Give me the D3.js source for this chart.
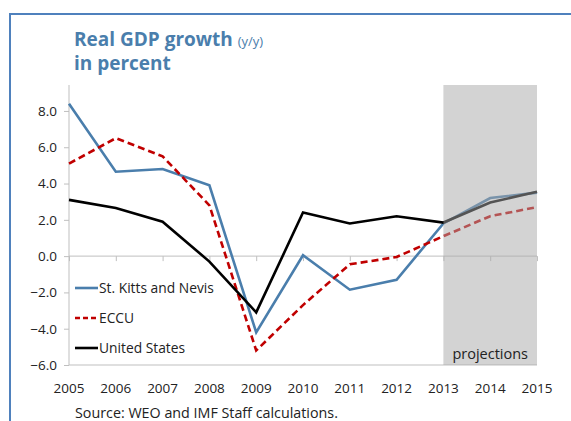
<!DOCTYPE html>
<html>
<head>
<meta charset="utf-8">
<script src="https://cdn.jsdelivr.net/npm/d3@7"></script>
<style>
  html, body { margin: 0; padding: 0; background: #fff; }
  svg { display: block; }
  text { font-family: "Open Sans", "Noto Sans", sans-serif; }
</style>
</head>
<body>
<svg id="chart" width="571" height="421"></svg>
<script>
// Real GDP growth, y/y, percent
const years = [2005, 2006, 2007, 2008, 2009, 2010, 2011, 2012, 2013, 2014, 2015];
const stKitts = [8.4, 4.65, 4.8, 3.9, -4.2, 0.05, -1.85, -1.3, 1.8, 3.2, 3.5];
const eccu = [5.1, 6.5, 5.5, 2.8, -5.2, -2.7, -0.45, -0.05, 1.1, 2.2, 2.7];
const unitedStates = [3.1, 2.65, 1.9, -0.3, -3.1, 2.4, 1.8, 2.2, 1.85, 2.95, 3.55];
const yTicks = [-6, -4, -2, 0, 2, 4, 6, 8];
const projectionStart = 2013;
const projectionEnd = 2015;

const seriesList = [
  { name: "St. Kitts and Nevis", values: stKitts, color: "#4a7eac", dash: null },
  { name: "ECCU", values: eccu, color: "#c00000", dash: "7,4" },
  { name: "United States", values: unitedStates, color: "#000000", dash: null }
];

const svg = d3.select("#chart");
const plotLeft = 69, plotRight = 537, plotTop = 85, plotBottom = 365;

const x = d3.scaleLinear().domain([2005, 2015]).range([plotLeft, plotRight]);
const y = d3.scaleLinear().domain([-6, 9.43]).range([plotBottom, plotTop]);

// outer frame (top and left rules)
svg.append("line").attr("x1", 10).attr("x2", 571).attr("y1", 14).attr("y2", 14)
  .attr("stroke", "#4f81bd").attr("stroke-width", 2);
svg.append("line").attr("x1", 10).attr("x2", 10).attr("y1", 13).attr("y2", 421)
  .attr("stroke", "#4f81bd").attr("stroke-width", 2);

// title
const title = svg.append("text").attr("x", 74).attr("y", 46)
  .attr("fill", "#4a7eac").attr("font-size", 19).attr("font-weight", "bold");
title.append("tspan").text("Real GDP growth ");
title.append("tspan").attr("font-weight", "normal").attr("font-size", 13).text("(y/y)");
svg.append("text").attr("x", 74).attr("y", 70)
  .attr("fill", "#4a7eac").attr("font-size", 19).attr("font-weight", "bold")
  .text("in percent");

// y axis
const yAxis = svg.append("g").attr("transform", `translate(${plotLeft},0)`)
  .call(d3.axisLeft(y).tickValues(yTicks).tickSize(5).tickPadding(7)
    .tickFormat(d3.format(".1f")));
yAxis.select(".domain").attr("d", `M0,${plotTop}V${plotBottom}`).attr("stroke", "#bfbfbf");
yAxis.selectAll(".tick line").attr("stroke", "#bfbfbf");
yAxis.selectAll(".tick text").attr("font-size", 13.5).attr("fill", "#222");

// bottom rule at the axis minimum
svg.append("line").attr("x1", plotLeft).attr("x2", plotRight)
  .attr("y1", y(-6)).attr("y2", y(-6)).attr("stroke", "#bfbfbf");

// category axis crossing at zero
const xAxis = svg.append("g").attr("transform", `translate(0,${y(0)})`)
  .call(d3.axisBottom(x).tickValues(years).tickSize(5).tickFormat(""));
xAxis.select(".domain").attr("d", `M${plotLeft},0H${plotRight}`).attr("stroke", "#bfbfbf");
xAxis.selectAll(".tick line").attr("stroke", "#bfbfbf");

// year labels below the plot
svg.append("g").selectAll("text").data(years).join("text")
  .attr("x", d => x(d)).attr("y", 393)
  .attr("text-anchor", "middle").attr("font-size", 13.5).attr("fill", "#222")
  .text(d => d);

// series lines
const line = d3.line().x((d, i) => x(years[i])).y(d => y(d));
seriesList.forEach(s => {
  svg.append("path").datum(s.values)
    .attr("d", line).attr("fill", "none")
    .attr("stroke", s.color).attr("stroke-width", 2.6)
    .attr("stroke-dasharray", s.dash)
    .attr("stroke-linejoin", "miter");
});

// projections shading laid over the lines
svg.append("rect")
  .attr("x", x(projectionStart)).attr("y", plotTop)
  .attr("width", x(projectionEnd) - x(projectionStart)).attr("height", plotBottom - plotTop)
  .attr("fill", "rgb(168,168,168)").attr("fill-opacity", 0.5);
svg.append("text").attr("x", (x(projectionStart) + x(projectionEnd)) / 2).attr("y", 359)
  .attr("text-anchor", "middle").attr("font-size", 14.5).attr("fill", "#222")
  .text("projections");

// legend
const legend = svg.append("g").selectAll("g").data(seriesList).join("g")
  .attr("transform", (d, i) => `translate(75,${288 + i * 30})`);
legend.append("line").attr("x1", 0).attr("x2", 23).attr("y1", 0).attr("y2", 0)
  .attr("stroke", d => d.color).attr("stroke-width", 2.6)
  .attr("stroke-dasharray", d => d.dash ? "5,3" : null);
legend.append("text").attr("x", 24).attr("y", 5)
  .attr("font-size", 13.8).attr("fill", "#222").text(d => d.name);

// source note
svg.append("text").attr("x", 75).attr("y", 418)
  .attr("font-size", 14.3).attr("fill", "#222")
  .text("Source: WEO and IMF Staff calculations.");
</script>
</body>
</html>
